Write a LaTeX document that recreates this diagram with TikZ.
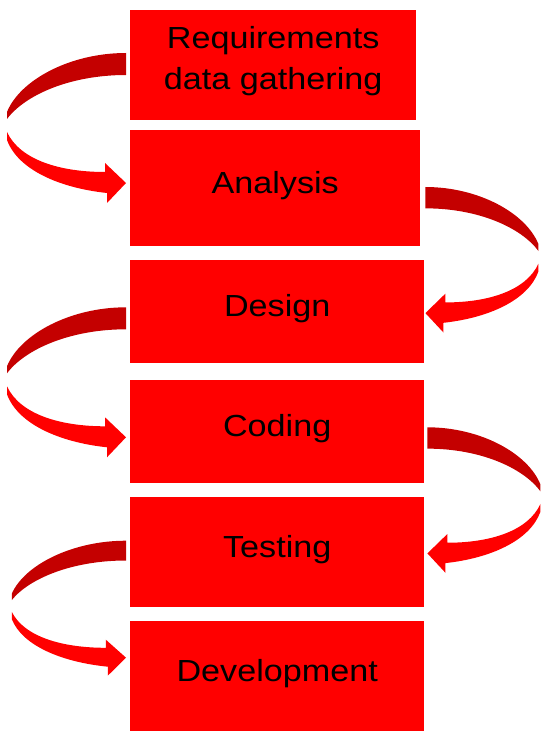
\documentclass[tikz,border=0pt]{standalone}
\usepackage{fontspec}
\setmainfont{Liberation Sans}[FakeStretch=1.12]
\usetikzlibrary{calc}
\definecolor{boxred}{RGB}{255,0,0}
\definecolor{backred}{RGB}{196,0,0}
\newcommand{\curvedflow}{%
  \fill[backred] (0,0) .. controls (-56,0) and (-106,27) .. (-119,59)
    -- (-119,66) .. controls (-101,42) and (-56,22) .. (0,22) -- cycle;
  \fill[boxred] (-119,79) .. controls (-106,107) and (-66,119) .. (-21,119)
    -- (-21,110) -- (0,130) -- (-19,150) -- (-19,140)
    .. controls (-66,135) and (-108,117) .. (-119,87) -- cycle;
}
\begin{document}
\begin{tikzpicture}[x=1pt,y=-1pt,
  stagebox/.style={draw=none, fill=boxred, rectangle, inner sep=0pt, anchor=north west},
  stagetext/.style={font=\fontsize{30.5}{41}\selectfont, text=black, inner sep=0pt, align=center}]
\useasboundingbox (0,0) rectangle (550,743);
% boxes
\node[stagebox, minimum width=286pt, minimum height=110.5pt] (b1) at (130,9.5) {};
\node[stagebox, minimum width=290pt, minimum height=116pt] (b2) at (130,130) {};
\node[stagebox, minimum width=294pt, minimum height=103pt] (b3) at (130,260) {};
\node[stagebox, minimum width=294pt, minimum height=103pt] (b4) at (130,380) {};
\node[stagebox, minimum width=294pt, minimum height=110pt] (b5) at (130,497) {};
\node[stagebox, minimum width=294pt, minimum height=110pt] (b6) at (130,621) {};
% texts
\node[stagetext, yshift=4pt] (t1) at (b1.center) {Requirements\\data gathering};
\node[stagetext, anchor=base, yshift=-5pt] (t2) at (b2.center) {Analysis};
\node[stagetext, anchor=base, yshift=-5pt] (t3) at (b3.center) {Design};
\node[stagetext, anchor=base, yshift=-5pt] (t4) at (b4.center) {Coding};
\node[stagetext, anchor=base, yshift=-5pt] (t5) at (b5.center) {Testing};
\node[stagetext, anchor=base, yshift=-5pt] (t6) at (b6.center) {Development};
% curved arrows on the left
\begin{scope}[shift={($(b1.north west)+(-4,43.5)$)}]
  \curvedflow
\end{scope}
\begin{scope}[shift={($(b3.north west)+(-4,47.3)$)}]
  \curvedflow
\end{scope}
\begin{scope}[shift={($(b5.north west)+(-4,43.7)$)}, xscale=0.96, yscale=0.9]
  \curvedflow
\end{scope}
% curved arrows on the right
\begin{scope}[shift={($(b2.north east)+(5,57)$)}, xscale=-0.95, yscale=0.97]
  \curvedflow
\end{scope}
\begin{scope}[shift={($(b4.north east)+(3,47.3)$)}, xscale=-0.95, yscale=0.97]
  \curvedflow
\end{scope}
\end{tikzpicture}
\end{document}
